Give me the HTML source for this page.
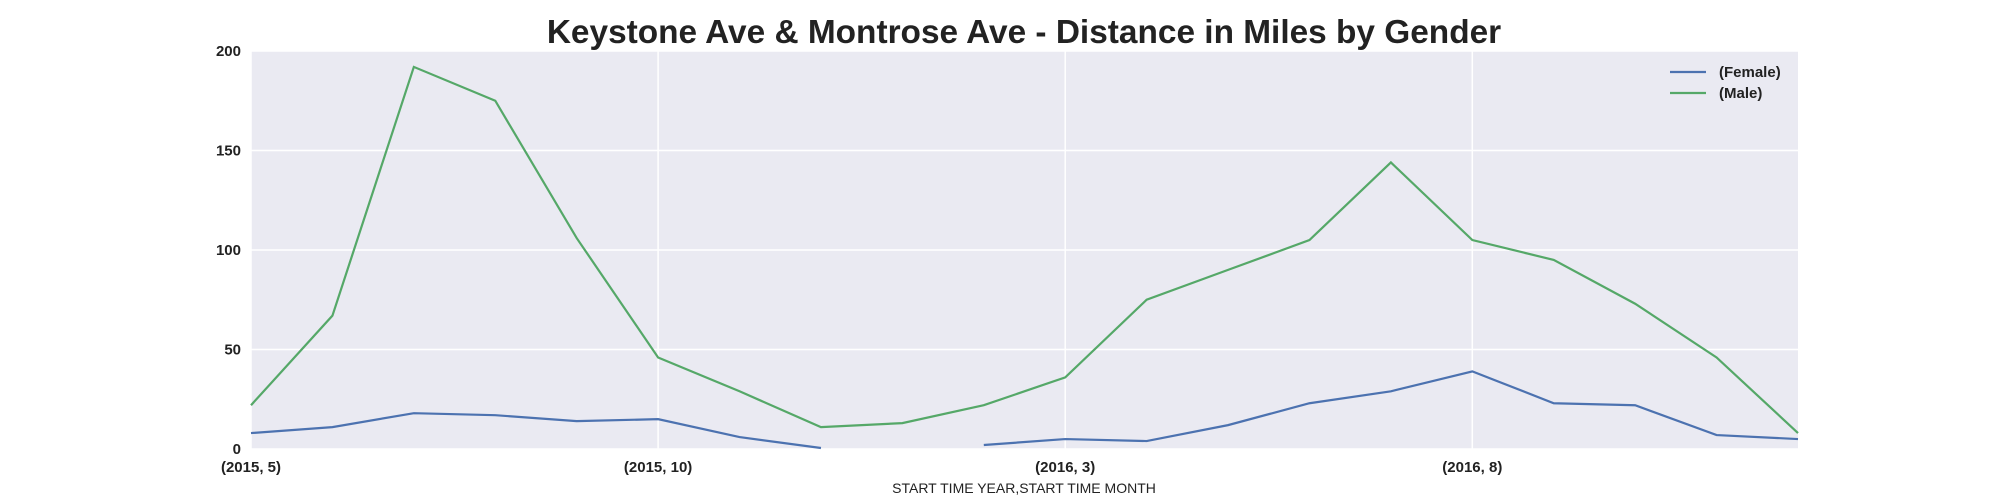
<!DOCTYPE html>
<html><head><meta charset="utf-8"><style>
body{margin:0;background:#fff}
svg{display:block;font-family:"Liberation Sans",Arial,sans-serif}
</style></head><body>
<svg id="c" width="2000" height="500" xmlns="http://www.w3.org/2000/svg"></svg>
<script>
const categories=["2015-5","2015-6","2015-7","2015-8","2015-9","2015-10","2015-11","2015-12","2016-1","2016-2","2016-3","2016-4","2016-5","2016-6","2016-7","2016-8","2016-9","2016-10","2016-11","2016-12"];
const female=[8,11,18,17,14,15,6,0.5,null,2,5,4,12,23,29,39,23,22,7,5];
const male=[22,67,192,175,106,46,29,11,13,22,36,75,90,105,144,105,95,73,46,8];
const yTicks=[0,50,100,150,200];
const xTickIdx=[0,5,10,15];
const xTickLabels=["(2015, 5)","(2015, 10)","(2016, 3)","(2016, 8)"];
const L=251,R=1798,T=51,B=449;
const x=i=>L+(R-L)*i/(categories.length-1);
const y=v=>B-(B-T)*v/200;
const svg=document.getElementById('c');
const NS="http://www.w3.org/2000/svg";
function mk(t,a,p){const e=document.createElementNS(NS,t);for(const k in a)e.setAttribute(k,a[k]);(p||svg).appendChild(e);return e;}
const bg=mk('rect',{x:L,y:T,width:R-L,height:B-T,fill:'#eaeaf2'});


yTicks.forEach(v=>{
 const g=mk('line',{x1:L,x2:R,y1:y(v),y2:y(v),stroke:'#fff','stroke-width':1.5});
 
 
 const t=mk('text',{x:L-10,y:y(v)+5,'text-anchor':'end','font-size':15,'font-weight':'bold',fill:'#222'});
 t.textContent=v;
 
 
});
xTickIdx.forEach((i,k)=>{
 const g=mk('line',{x1:x(i),x2:x(i),y1:T,y2:B,stroke:'#fff','stroke-width':1.5});
 
 
 const t=mk('text',{x:x(i),y:472,'text-anchor':'middle','font-size':15,'font-weight':'bold',fill:'#222'});
 t.textContent=xTickLabels[k];
 
 
});
function series(data,color,name){
 let d='',pen=false;
 data.forEach((v,i)=>{if(v==null){pen=false;return;}d+=(pen?'L':'M')+x(i)+','+y(v);pen=true;});
 const p=mk('path',{d:d,fill:'none',stroke:color,'stroke-width':2.2});
 
 
}
series(female,'#4c72b0','female-line');
series(male,'#55a868','male-line');
const title=mk('text',{x:1024,y:43,'text-anchor':'middle','font-size':33.4,'font-weight':'bold',fill:'#222'});
title.textContent='Keystone Ave & Montrose Ave - Distance in Miles by Gender';


const xl=mk('text',{x:1024,y:493,'text-anchor':'middle','font-size':14,fill:'#222'});
xl.textContent='START TIME YEAR,START TIME MONTH';


[['(Female)','#4c72b0',72],['(Male)','#55a868',93]].forEach(([n,c,yy])=>{
 const l=mk('line',{x1:1670,x2:1706,y1:yy,y2:yy,stroke:c,'stroke-width':2.2});
 
 
 const t=mk('text',{x:1719,y:yy+5,'font-size':15,'font-weight':'bold',fill:'#222'});
 t.textContent=n;
 
 
});
</script>
</body></html>
